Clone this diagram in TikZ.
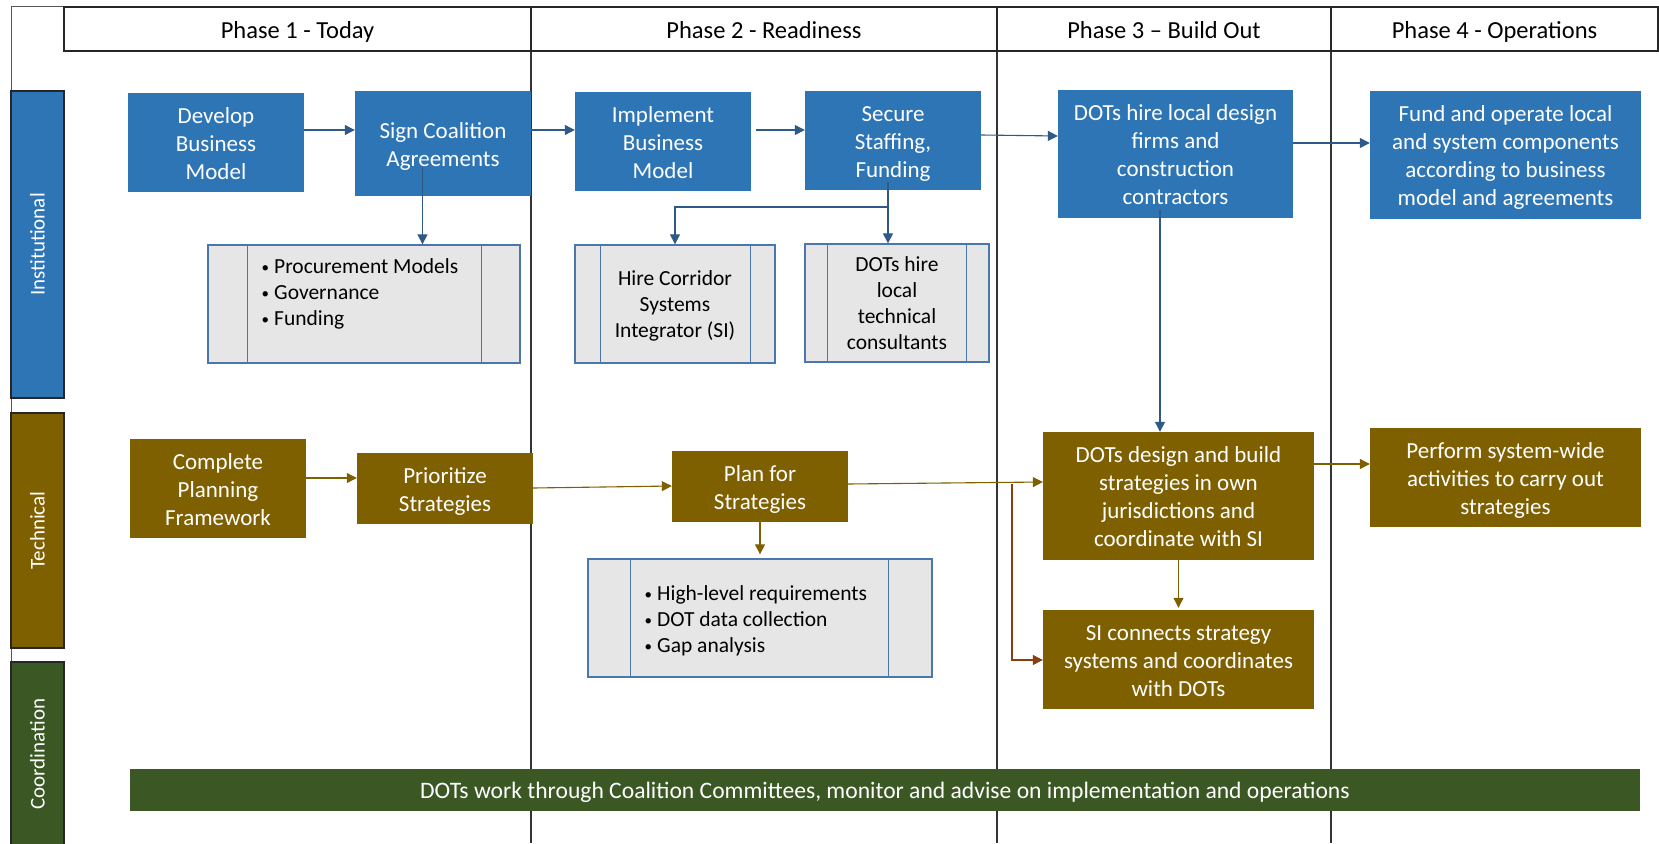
\documentclass[tikz,border=0pt]{standalone}
\usepackage{fontspec}
\setmainfont{Carlito}
\usetikzlibrary{arrows.meta}
\definecolor{boxblue}{HTML}{2E75B6}
\definecolor{boxbrown}{HTML}{7F6000}
\definecolor{boxgreen}{HTML}{3A5724}
\definecolor{grayfill}{HTML}{E7E6E6}
\definecolor{grayedge}{HTML}{4A78AE}
\definecolor{arrblue}{HTML}{2F5A88}
\definecolor{arrbrown}{HTML}{7F6000}
\definecolor{arrred}{HTML}{8B3E12}
\definecolor{framegray}{HTML}{555555}
\newcommand{\blt}{\makebox[12.5pt][l]{\raisebox{1.6pt}{\fontsize{15}{15}\selectfont•}}}
\newcommand{\bgst}{\vrule width 0pt height 22.8pt depth 5.2pt\relax}
\newcommand{\smst}{\vrule width 0pt height 20.5pt depth 5.5pt\relax}
\begin{document}
\begin{tikzpicture}[x=1pt,y=-1pt,
  bigtext/.style={font=\fontsize{23}{28}\selectfont},
  smalltext/.style={font=\fontsize{21.5}{26}\selectfont},
  bluebox/.style={fill=boxblue, text=white, inner sep=0pt, align=center, bigtext},
  brownbox/.style={fill=boxbrown, text=white, inner sep=0pt, align=center, bigtext},
  greenbar/.style={fill=boxgreen, text=white, inner sep=0pt, align=center, font=\fontsize{23.6}{28}\selectfont},
  graybox/.style={fill=grayfill, draw=grayedge, line width=1.3pt, inner sep=0pt, align=center, text=black, smalltext},
  grayline/.style={draw=grayedge, line width=1.3pt},
  bullettext/.style={inner sep=0pt, align=left, text=black, smalltext},
  hdrcell/.style={draw=black!85, line width=1.4pt, inner sep=0pt, minimum height=44pt, text height=20pt, text depth=2pt, font=\fontsize{24.5}{28}\selectfont},
  lanelabel/.style={draw=black!85, line width=1.3pt, rotate=90, text=white, inner sep=0pt, minimum height=53pt, font=\fontsize{21}{25}\selectfont},
  framel/.style={draw=framegray, line width=1pt},
  divl/.style={draw=black!80, line width=1.1pt},
  tip/.style={-{Triangle[length=10pt,width=10pt]}},
  barr/.style={draw=arrblue, line width=1.1pt, tip},
  brarr/.style={draw=arrbrown, line width=1.1pt, tip},
  rarr/.style={draw=arrred, line width=1.1pt, tip}
]
\useasboundingbox (0,0) rectangle (1659,843);

% frame and phase dividers
\draw[framel] (11,7) -- (64,7);
\draw[framel] (11,7) -- (11,843);
\draw[divl] (531,51) -- (531,843);
\draw[divl] (997,51) -- (997,843);
\draw[divl] (1331,51) -- (1331,843);

% header
\node[hdrcell, minimum width=467pt] (h1) at (297.5,29) {Phase 1 - Today};
\node[hdrcell, minimum width=466pt] (h2) at (764,29) {Phase 2 - Readiness};
\node[hdrcell, minimum width=334pt] (h3) at (1164,29) {Phase 3 – Build Out};
\node[hdrcell, minimum width=327pt] (h4) at (1494.5,29) {Phase 4 - Operations};

% lane labels
\node[lanelabel, fill=boxblue, minimum width=307pt] (linst) at (37.5,244.5) {Institutional};
\node[lanelabel, fill=boxbrown, minimum width=235pt] (ltech) at (37.5,530.5) {Technical};
\node[lanelabel, fill=boxgreen, minimum width=184pt] (lcoord) at (37.5,754) {Coordination};

% institutional boxes
\node[bluebox, minimum width=176pt, minimum height=99pt] (dev) at (216,142.5) {\bgst Develop\\Business\\Model\bgst};
\node[bluebox, minimum width=176pt, minimum height=105pt] (sign) at (443,143.5) {\bgst Sign Coalition\\Agreements\bgst};
\node[bluebox, minimum width=176pt, minimum height=99pt] (impl) at (663,141.5) {\bgst Implement\\Business\\Model\bgst};
\node[bluebox, minimum width=176pt, minimum height=99pt] (sec) at (893,140.5) {\bgst Secure\\Staffing,\\Funding\bgst};
\node[bluebox, minimum width=235pt, minimum height=128pt] (hire) at (1175.5,154) {\bgst DOTs hire local design\\firms and\\construction\\contractors\bgst};
\node[bluebox, minimum width=271pt, minimum height=128pt] (fund) at (1505.5,155) {\bgst Fund and operate local\\and system components\\according to business\\model and agreements\bgst};

% gray process boxes (institutional)
\node[graybox, minimum width=312pt, minimum height=118pt] (b1) at (364,304) {};
\draw[grayline] ([xshift=40pt]b1.north west) -- ([xshift=40pt]b1.south west);
\draw[grayline] ([xshift=-39pt]b1.north east) -- ([xshift=-39pt]b1.south east);
\node[bullettext, anchor=north west] (b1t) at (261.5,258.5) {\blt Procurement Models\\\blt Governance\\\blt Funding};

\node[graybox, minimum width=200pt, minimum height=118pt] (hc) at (675,304) {\smst Hire Corridor\\Systems\\Integrator (SI)\smst};
\draw[grayline] ([xshift=26pt]hc.north west) -- ([xshift=26pt]hc.south west);
\draw[grayline] ([xshift=-25pt]hc.north east) -- ([xshift=-25pt]hc.south east);

\node[graybox, minimum width=184pt, minimum height=118pt] (dl) at (897,303) {\smst DOTs hire\\local\\technical\\consultants\smst};
\draw[grayline] ([xshift=23pt]dl.north west) -- ([xshift=23pt]dl.south west);
\draw[grayline] ([xshift=-23pt]dl.north east) -- ([xshift=-23pt]dl.south east);

% technical boxes
\node[brownbox, minimum width=176pt, minimum height=99pt] (cpf) at (218,488.5) {\bgst Complete\\Planning\\Framework\bgst};
\node[brownbox, minimum width=176pt, minimum height=71pt] (prio) at (445,488.5) {\bgst Prioritize\\Strategies\bgst};
\node[brownbox, minimum width=176pt, minimum height=71pt] (plan) at (760,486.5) {\bgst Plan for\\Strategies\bgst};
\node[brownbox, minimum width=271pt, minimum height=128pt] (design) at (1178.5,496) {\bgst DOTs design and build\\strategies in own\\jurisdictions and\\coordinate with SI\bgst};
\node[brownbox, minimum width=271pt, minimum height=99pt] (sic) at (1178.5,659.5) {\bgst SI connects strategy\\systems and coordinates\\with DOTs\bgst};
\node[brownbox, minimum width=271pt, minimum height=99pt] (perf) at (1505.5,477.5) {\bgst Perform system-wide\\activities to carry out\\strategies\bgst};

\node[graybox, minimum width=344pt, minimum height=118pt] (b2) at (760,618) {};
\draw[grayline] ([xshift=43pt]b2.north west) -- ([xshift=43pt]b2.south west);
\draw[grayline] ([xshift=-44pt]b2.north east) -- ([xshift=-44pt]b2.south east);
\node[bullettext, anchor=north west] (b2t) at (644.5,585.5) {\blt High-level requirements\\\blt DOT data collection\\\blt Gap analysis};

% coordination bar
\node[greenbar, minimum width=1510pt, minimum height=42pt] (bar) at (885,790) {\bgst DOTs work through Coalition Committees, monitor and advise on implementation and operations};

% connectors: institutional
\coordinate (signdrop) at (422.5,167);
\coordinate (secdrop) at (888,182);
\coordinate (secsplit) at (888,207);
\coordinate (hiredrop) at (1160,210);
\draw[barr] (dev.east |- 0,130) -- (sign.west |- 0,130);
\draw[barr] (sign.east |- 0,130) -- (impl.west |- 0,130);
\draw[barr] (756,130) -- (sec.west |- 0,130);
\draw[barr] (sec.east |- 0,135) -- (hire.west |- 0,136);
\draw[barr] (hire.east |- 0,143) -- (fund.west |- 0,143);
\draw[barr] (signdrop) -- (b1.north -| signdrop);
\draw[barr] (secdrop) -- (dl.north -| secdrop);
\draw[barr] (secsplit) -| (hc.north);
\draw[barr] (hiredrop) -- (design.north -| hiredrop);

% connectors: technical
\coordinate (branch) at (1012,484);
\draw[brarr] (cpf.east |- 0,478) -- (prio.west |- 0,478);
\draw[brarr] (prio.east |- 0,488) -- (plan.west |- 0,486);
\draw[brarr, shorten >=4pt] (plan.south) -- (b2.north);
\draw[brarr] (plan.east |- 0,484) -- (design.west |- 0,482);
\draw[rarr] (branch) |- (sic.west |- 0,660);
\draw[brarr, shorten >=2pt] (design.south) -- (sic.north);
\draw[brarr] (design.east |- 0,464) -- (perf.west |- 0,464);
\end{tikzpicture}
\end{document}
